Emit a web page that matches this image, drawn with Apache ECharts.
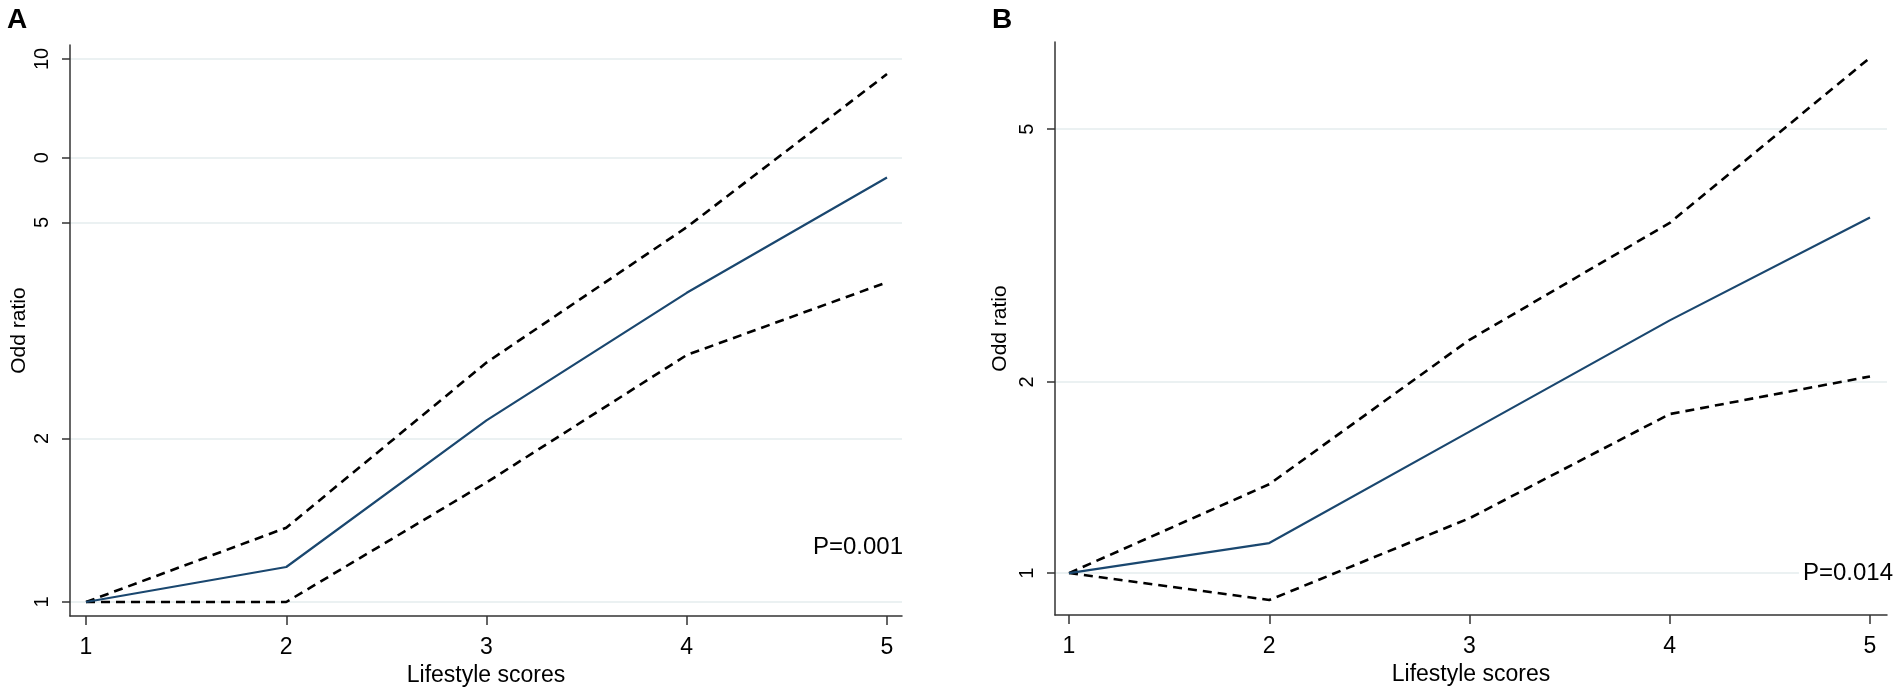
<!DOCTYPE html>
<html>
<head>
<meta charset="utf-8">
<script src="https://cdn.jsdelivr.net/npm/echarts@6/dist/echarts.min.js"></script>
<style>
  html, body { margin: 0; padding: 0; background: #fff; }
  #chart { width: 1902px; height: 692px; }
</style>
</head>
<body>
<div id="chart"></div>
<script>
// lifestyle scores (x axis)
const scores = [1, 2, 3, 4, 5];

// panel A: odds ratio with 95% CI
const orA = [1, 1.16, 2.16, 3.71, 6.05];
const lowA = [1, 1.0, 1.66, 2.85, 3.88];
const upA = [1, 1.37, 2.76, 4.90, 9.38];

// panel B
const orB = [1, 1.115, 1.67, 2.50, 3.63];
const lowB = [1, 0.907, 1.22, 1.78, 2.04];
const upB = [1, 1.38, 2.33, 3.56, 6.48];

// y tick values and the labels printed at them
const yTicksA = [1, 2, 5, 6.58, 10];
const yLabelsA = ['1', '2', '5', '0', '10'];
const yTicksB = [1, 2, 5];
const yLabelsB = ['1', '2', '5'];

const pA = 'P=0.001';
const pB = 'P=0.014';

const FONT = 'Liberation Sans, Arial, Helvetica, sans-serif';
const NAVY = '#1a476f';
const GRID_COLOR = '#e4ecee';

function pairs(ys) {
  return scores.map((x, i) => [x, ys[i]]);
}

function labelFor(ticks, labels) {
  return function (v) {
    for (let i = 0; i < ticks.length; i++) {
      if (Math.abs(ticks[i] - v) / ticks[i] < 0.01) return labels[i];
    }
    return '';
  };
}

function xAxisCfg(gridIndex, min, max) {
  return {
    type: 'value',
    gridIndex: gridIndex,
    min: min,
    max: max,
    name: 'Lifestyle scores',
    nameLocation: 'middle',
    nameGap: 44,
    nameTextStyle: { fontFamily: FONT, fontSize: 23, color: '#000' },
    axisLine: { show: true, onZero: false, lineStyle: { color: '#333', width: 1.5 } },
    axisTick: { show: true, length: 9, customValues: scores, lineStyle: { color: '#333', width: 1.5 } },
    axisLabel: { customValues: scores, margin: 20, fontFamily: FONT, fontSize: 23, color: '#000' },
    splitLine: { show: false }
  };
}

function yAxisCfg(gridIndex, min, max, ticks, labels, gap) {
  return {
    type: 'log',
    logBase: 10,
    gridIndex: gridIndex,
    min: min,
    max: max,
    name: 'Odd ratio',
    nameLocation: 'middle',
    nameGap: gap,
    nameRotate: 90,
    nameTextStyle: { fontFamily: FONT, fontSize: 21, color: '#000' },
    axisLine: { show: true, lineStyle: { color: '#333', width: 1.5 } },
    axisTick: { show: true, length: 8, customValues: ticks, lineStyle: { color: '#333', width: 1.5 } },
    axisLabel: {
      customValues: ticks,
      rotate: 90,
      margin: 18,
      fontFamily: FONT,
      fontSize: 20,
      color: '#000',
      formatter: labelFor(ticks, labels)
    },
    splitLine: { show: true, lineStyle: { color: GRID_COLOR, width: 1.5 } }
  };
}

function lineSeries(idx, ys, dashed) {
  return {
    type: 'line',
    xAxisIndex: idx,
    yAxisIndex: idx,
    data: pairs(ys),
    symbol: 'none',
    silent: true,
    z: dashed ? 3 : 4,
    lineStyle: dashed
      ? { color: '#000', width: 2.6, type: [9, 6] }
      : { color: NAVY, width: 2.2 }
  };
}

const chart = echarts.init(document.getElementById('chart'), null, { renderer: 'canvas' });

chart.setOption({
  animation: false,
  backgroundColor: '#fff',
  grid: [
    { left: 70, right: 1000, top: 45, bottom: 75 },
    { left: 1055, right: 15, top: 42, bottom: 77 }
  ],
  xAxis: [
    xAxisCfg(0, 0.92, 5.075),
    xAxisCfg(1, 0.93, 5.085)
  ],
  yAxis: [
    yAxisCfg(0, 0.942, 10.61, yTicksA, yLabelsA, 40),
    yAxisCfg(1, 0.859, 6.86, yTicksB, yLabelsB, 44)
  ],
  series: [
    lineSeries(0, orA, false),
    lineSeries(0, lowA, true),
    lineSeries(0, upA, true),
    lineSeries(1, orB, false),
    lineSeries(1, lowB, true),
    lineSeries(1, upB, true)
  ],
  graphic: [
    { type: 'text', left: 7, top: 6, style: { text: 'A', font: 'bold 28px ' + FONT, fill: '#000' } },
    { type: 'text', left: 992, top: 6, style: { text: 'B', font: 'bold 28px ' + FONT, fill: '#000' } },
    { type: 'text', right: 999, top: 535, z: 100, style: { text: pA, font: '24px ' + FONT, fill: '#000' } },
    {
      type: 'text', right: 7, top: 561, z: 100,
      style: { text: pB, font: '24px ' + FONT, fill: '#000', backgroundColor: '#fff', padding: [0, 2, 0, 4] }
    }
  ]
});
</script>
</body>
</html>
